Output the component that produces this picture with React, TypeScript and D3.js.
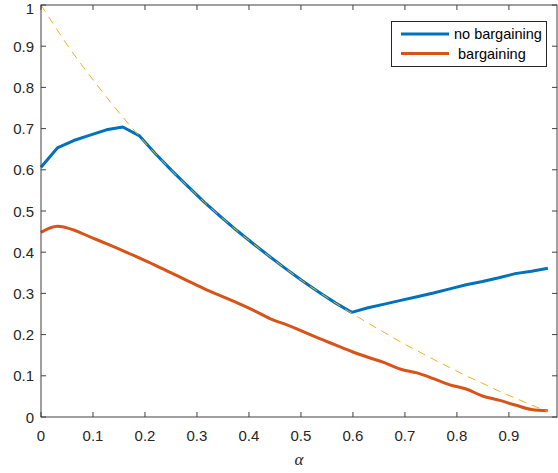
import React from "react";
import * as d3 from "d3";

const alphaStep = 0.975 / 31;
const alphas = d3.range(32).map((i) => i * alphaStep);

const noBargaining = [
  0.606, 0.653, 0.671, 0.684, 0.697, 0.704, 0.683, 0.639, 0.598, 0.559,
  0.521, 0.486, 0.452, 0.42, 0.389, 0.359, 0.33, 0.303, 0.277, 0.254,
  0.265, 0.274, 0.283, 0.292, 0.301, 0.311, 0.321, 0.329, 0.338, 0.348,
  0.354, 0.361,
];

const bargaining = [
  0.448, 0.463, 0.454, 0.437, 0.421, 0.404, 0.386, 0.368, 0.349, 0.33,
  0.311, 0.294, 0.277, 0.259, 0.239, 0.224, 0.208, 0.191, 0.175, 0.159,
  0.145, 0.132, 0.116, 0.107, 0.093, 0.078, 0.068, 0.051, 0.041, 0.029,
  0.018, 0.015,
];

const bound = [
  1.0, 0.939, 0.881, 0.828, 0.777, 0.728, 0.682, 0.639, 0.598, 0.559,
  0.521, 0.486, 0.452, 0.42, 0.389, 0.359, 0.33, 0.303, 0.277, 0.252,
  0.228, 0.205, 0.182, 0.161, 0.14, 0.12, 0.1, 0.082, 0.063, 0.046,
  0.029, 0.013,
];

const xTicks = [0, 0.1, 0.2, 0.3, 0.4, 0.5, 0.6, 0.7, 0.8, 0.9];
const yTicks = [0, 0.1, 0.2, 0.3, 0.4, 0.5, 0.6, 0.7, 0.8, 0.9, 1];
const seriesNames = ["no bargaining", " bargaining"];

const W = 558;
const H = 473;
const M = { left: 41, right: 1, top: 5, bottom: 56 };

export default function App() {
  const x = d3.scaleLinear().domain([0, 0.9925]).range([M.left, W - M.right]);
  const y = d3.scaleLinear().domain([0, 1]).range([H - M.bottom, M.top]);
  const line = d3
    .line<number>()
    .x((_, i) => x(alphas[i]))
    .y((d) => y(d));
  const smooth = d3
    .line<number>()
    .x((_, i) => x(alphas[i]))
    .y((d) => y(d))
    .curve(d3.curveMonotoneX);

  const axisColor = "#404040";
  const textColor = "#262626";
  const font = "'Liberation Sans', Arial, sans-serif";
  const x0 = x(0);
  const x1 = x.range()[1];
  const y0 = y(0);
  const y1 = y(1);
  const tl = 5;

  const lx = 391.5;
  const ly = 21.5;
  const lw = 155;
  const lh = 45;

  return (
    <svg
      width={W}
      height={H}
      style={{ position: "absolute", left: 0, top: 0, background: "#fff" }}
      fontFamily={font}
    >
      <path
        d={line(noBargaining) || ""}
        fill="none"
        stroke="#0072BD"
        strokeWidth={3}
        strokeLinejoin="round"
      />
      <path
        d={smooth(bargaining) || ""}
        fill="none"
        stroke="#D95319"
        strokeWidth={3}
        strokeLinejoin="round"
      />
      {/* bound dashed */}
      <path
        d={smooth(bound) || ""}
        fill="none"
        stroke="#EDB120"
        strokeWidth={1}
        strokeDasharray="8,6"
      />
      {/* box */}
      <rect
        x={x0}
        y={y1}
        width={x1 - x0}
        height={y0 - y1}
        fill="none"
        stroke={axisColor}
        strokeWidth={1}
      />
      {xTicks.map((t) => (
        <g key={"x" + t}>
          <line x1={x(t)} x2={x(t)} y1={y0} y2={y0 - tl} stroke={axisColor} />
          <line x1={x(t)} x2={x(t)} y1={y1} y2={y1 + tl} stroke={axisColor} />
          <text
            x={x(t)}
            y={y0 + 24}
            textAnchor="middle"
            fontSize={15}
            fill={textColor}
          >
            {String(t)}
          </text>
        </g>
      ))}
      {yTicks.map((t) => (
        <g key={"y" + t}>
          <line x1={x0} x2={x0 + tl} y1={y(t)} y2={y(t)} stroke={axisColor} />
          <line x1={x1} x2={x1 - tl} y1={y(t)} y2={y(t)} stroke={axisColor} />
          <text
            x={x0 - 7}
            y={Math.max(y(t) + 5.5, 14)}
            textAnchor="end"
            fontSize={15}
            fill={textColor}
          >
            {String(t)}
          </text>
        </g>
      ))}
      <text
        x={(x0 + x1) / 2}
        y={H - 8}
        textAnchor="middle"
        fontSize={17}
        fontStyle="italic"
        fontFamily="'Liberation Serif', 'Times New Roman', serif"
        fill={textColor}
      >
        α
      </text>
      {/* legend */}
      <rect
        x={lx}
        y={ly}
        width={lw}
        height={lh}
        fill="#fff"
        stroke={textColor}
        strokeWidth={1}
      />
      {seriesNames.map((name, i) => (
        <g key={name}>
          <line
            x1={401}
            x2={449}
            y1={34 + i * 19.5}
            y2={34 + i * 19.5}
            stroke={i === 0 ? "#0072BD" : "#D95319"}
            strokeWidth={3}
          />
          <text
            x={454}
            y={34 + i * 19.5 + 5}
            fontSize={14.5}
            fill="#000"
            style={{ whiteSpace: "pre" }}
          >
            {name}
          </text>
        </g>
      ))}
    </svg>
  );
}
